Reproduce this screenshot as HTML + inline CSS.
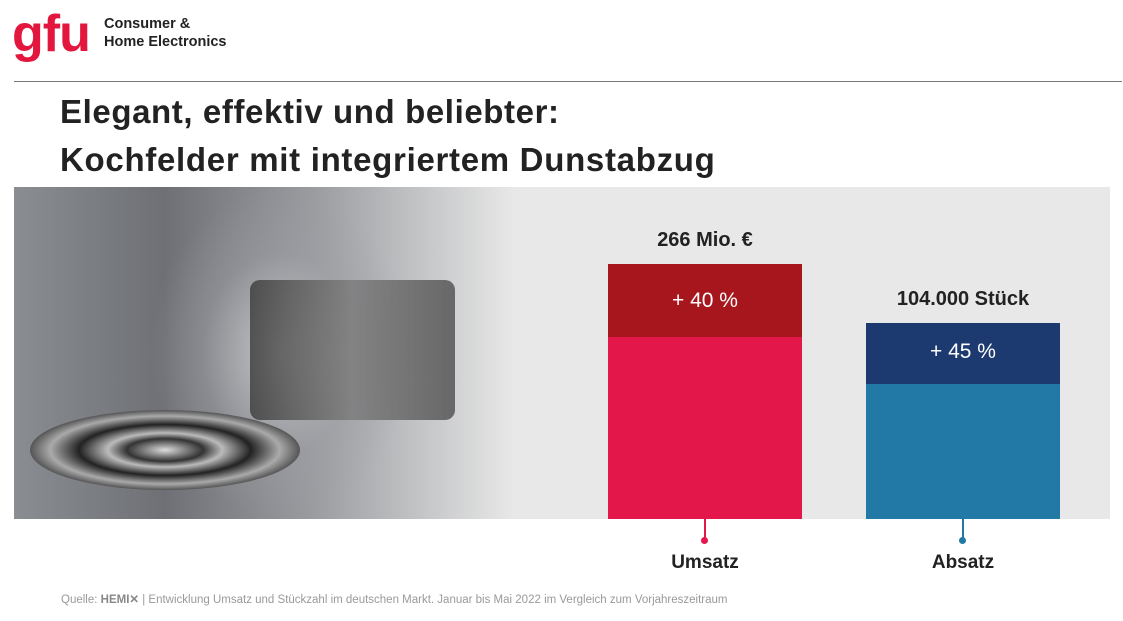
<!DOCTYPE html>
<html><head><style>
body{margin:0;width:1123px;height:621px;background:#fff;position:relative;overflow:hidden;font-family:"Liberation Sans",sans-serif}
.a{position:absolute}
</style></head><body>
<div class="a" style="left:12px;top:4px;font-size:52px;font-weight:bold;color:#e3173e;letter-spacing:-1px;line-height:60px">gfu</div>
<div class="a" style="left:104px;top:15px;font-size:14.5px;font-weight:bold;color:#222;line-height:18px">Consumer &amp;<br>Home Electronics</div>
<div class="a" style="left:14px;top:81px;width:1108px;height:1px;background:#777"></div>
<div class="a" style="left:60px;top:88px;font-size:33px;font-weight:bold;color:#222;line-height:48px;letter-spacing:0.6px">Elegant, effektiv und beliebter:<br><span style="letter-spacing:0.7px">Kochfelder mit integriertem Dunstabzug</span></div>
<div class="a" style="left:14px;top:187px;width:1096px;height:332px;background:#e8e8e8"></div>
<div class="a" style="left:14px;top:187px;width:500px;height:332px;background:linear-gradient(90deg,#8a8d92 0%,#6e7075 30%,#9a9ca0 60%,#e8e8e8 100%)"></div>
<div class="a" style="left:150px;top:187px;width:260px;height:332px;background:radial-gradient(closest-side,rgba(200,201,204,0.9) 0%,rgba(160,160,165,0.4) 60%,rgba(0,0,0,0) 100%)"></div>
<div class="a" style="left:30px;top:410px;width:270px;height:80px;border-radius:50%;background:radial-gradient(ellipse,#ddd 0%,#333 20%,#bbb 30%,#222 45%,#aaa 60%,#333 75%,#999 100%)"></div>
<div class="a" style="left:250px;top:280px;width:205px;height:140px;background:linear-gradient(90deg,#333,#777,#444);border-radius:10px;opacity:.75"></div>
<div class="a" style="left:608px;top:264px;width:194px;height:73px;background:#a7161d;color:#fff;font-size:21px;text-align:center;line-height:73px">+ 40 %</div>
<div class="a" style="left:608px;top:337px;width:194px;height:182px;background:#e3174a"></div>
<div class="a" style="left:866px;top:323px;width:194px;height:61px;background:#1d3a70;color:#fff;font-size:21px;text-align:center;line-height:58px">+ 45 %</div>
<div class="a" style="left:866px;top:384px;width:194px;height:135px;background:#2379a5"></div>
<div class="a" style="left:608px;top:229px;width:194px;text-align:center;font-size:20px;font-weight:bold;color:#222">266 Mio. €</div>
<div class="a" style="left:846px;top:288px;width:234px;text-align:center;font-size:20px;font-weight:bold;color:#222">104.000 Stück</div>
<div class="a" style="left:704px;top:519px;width:2px;height:20px;background:#e3174a"></div>
<div class="a" style="left:701px;top:537px;width:7px;height:7px;border-radius:50%;background:#e3174a"></div>
<div class="a" style="left:962px;top:519px;width:2px;height:20px;background:#2379a5"></div>
<div class="a" style="left:959px;top:537px;width:7px;height:7px;border-radius:50%;background:#2379a5"></div>
<div class="a" style="left:608px;top:552px;width:194px;text-align:center;font-size:19px;font-weight:bold;color:#222">Umsatz</div>
<div class="a" style="left:866px;top:552px;width:194px;text-align:center;font-size:19px;font-weight:bold;color:#222">Absatz</div>
<div class="a" style="left:61px;top:592px;font-size:11.5px;color:#999;white-space:nowrap">Quelle: <b style="color:#888">HEMI✕</b> | Entwicklung Umsatz und Stückzahl im deutschen Markt. Januar bis Mai 2022 im Vergleich zum Vorjahreszeitraum</div>
</body></html>
